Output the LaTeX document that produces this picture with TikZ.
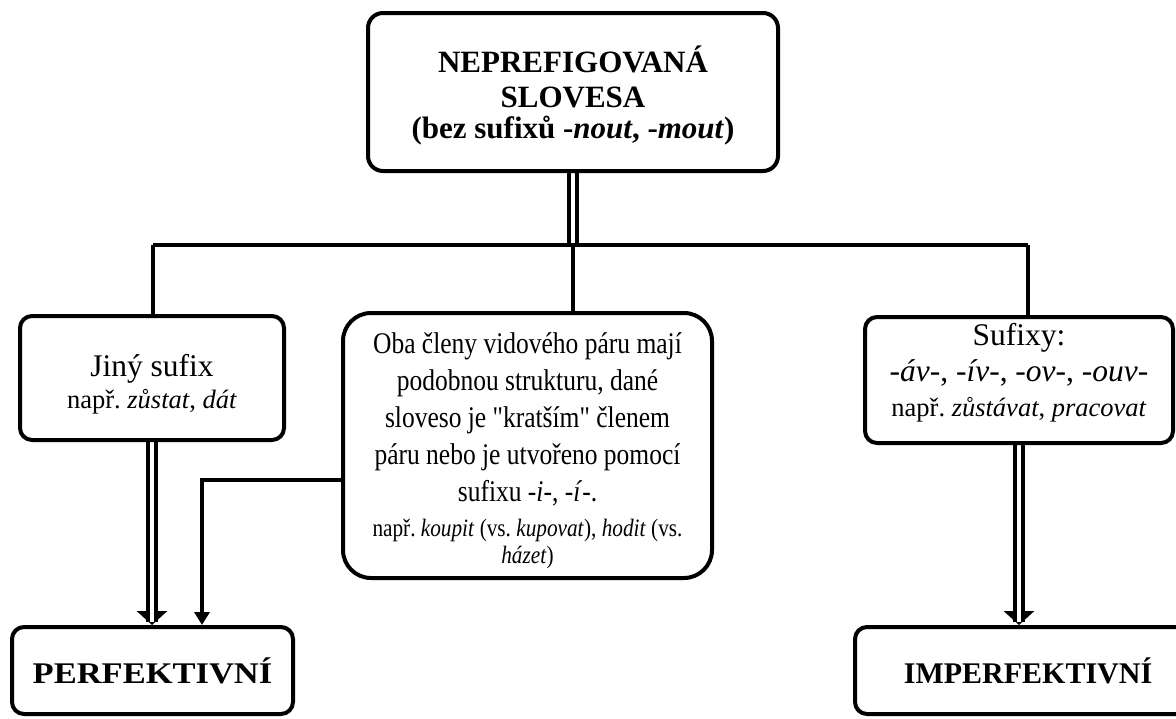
\documentclass[tikz,border=0pt]{standalone}
\usepackage{fontspec}
\usepackage{graphicx}
\setmainfont{Liberation Serif}
\newfontfamily\condfont[FakeStretch=0.85]{Liberation Serif}
\usetikzlibrary{arrows.meta,backgrounds}
\frenchspacing
\begin{document}
\begin{tikzpicture}[x=1pt,y=-1pt,
  box/.style={draw, line width=4pt, rounded corners=12pt, fill=white, inner sep=0pt},
  txt/.style={align=center, inner sep=0pt},
  conn/.style={line width=4pt},
  dbl/.style={double, double distance=4pt, line width=4pt},
  bigtip/.style={-{Triangle[width=30pt,length=14pt]}},
  smalltip/.style={-{Triangle[width=15pt,length=13pt]}}]
\useasboundingbox (0,0) rectangle (1176,718);

% boxes
\node[box, rounded corners=15pt, minimum width=410pt, minimum height=158pt] (top) at (573,92) {};
\node[box, minimum width=264pt, minimum height=124pt] (jiny) at (152,378) {};
\node[box, minimum width=308pt, minimum height=126pt] (sufixy) at (1019,380) {};
\node[box, rounded corners=28pt, minimum width=369pt, minimum height=265pt] (mid) at (527.5,445.5) {};
\node[box, minimum width=281pt, minimum height=87pt] (perf) at (152.5,670.5) {};
\node[box, minimum width=346pt, minimum height=87pt] (imperf) at (1028,670.5) {};

% texts
\node[txt, font=\fontsize{31}{35}\selectfont\bfseries] (topT) at (573,95)
  {NEPREFIGOVANÁ\\SLOVESA\\[-4pt](bez sufixů -\textit{nout}, -\textit{mout})};

\node[txt, font=\fontsize{31.5}{32}\selectfont] (jinyT) at (152,384.5)
  {Jiný sufix\\{\fontsize{26.5}{32}\selectfont např. \textit{zůstat}, \textit{dát}}};

\node[txt, font=\fontsize{31.5}{32}\selectfont] (sufixyT) at (1019,373)
  {Sufixy:\\[4pt]-\textit{áv}-, -\textit{ív}-, -\textit{ov}-, -\textit{ouv}-\\[3pt]{\fontsize{26.5}{32}\selectfont např. \textit{zůstávat}, \textit{pracovat}}};

\node[txt, font=\condfont\fontsize{30}{37}\selectfont] (midT) at (527.5,450.5)
  {Oba členy vidového páru mají\\
   podobnou strukturu, dané\\
   sloveso je "kratším" členem\\
   páru nebo je utvořeno pomocí\\
   sufixu -\textit{i}-, -\textit{í}-.\\[-2pt]
   {\fontsize{25}{27}\selectfont např. \textit{koupit} (vs. \textit{kupovat}), \textit{hodit} (vs.}\\[-10pt]
   {\fontsize{25}{27}\selectfont \textit{házet})}};

\node[txt, font=\fontsize{30}{35}\selectfont\bfseries] (perfT) at (152.5,670.5)
  {\scalebox{1.15}[1]{PERFEKTIVNÍ}};

\node[txt, font=\fontsize{30}{35}\selectfont\bfseries] (imperfT) at (1028,670.5)
  {IMPERFEKTIVNÍ};

\coordinate (hL) at (153,245);
\coordinate (hM) at (573,245);
\coordinate (hR) at (1028,245);
\coordinate (bend) at (202,480);

\begin{pgfonlayer}{background}
  \draw[dbl] (top.south) -- (hM);
  \draw[conn] (hL) -- (hR);
  \draw[conn] (hM) -- (hM |- mid.north);
  \draw[conn] (hL) -- (hL |- jiny.north);
  \draw[conn] (hR) -- (hR |- sufixy.north);
  \draw[conn, bigtip] (jiny.south) -- (jiny.south |- perf.north);
  \draw[dbl, shorten >=3pt] (jiny.south) -- (jiny.south |- perf.north);
  \draw[conn, smalltip] (mid.west |- bend) -- (bend) -- (bend |- perf.north);
  \draw[conn, bigtip] (sufixy.south) -- (sufixy.south |- imperf.north);
  \draw[dbl, shorten >=3pt] (sufixy.south) -- (sufixy.south |- imperf.north);
\end{pgfonlayer}
\end{tikzpicture}
\end{document}
